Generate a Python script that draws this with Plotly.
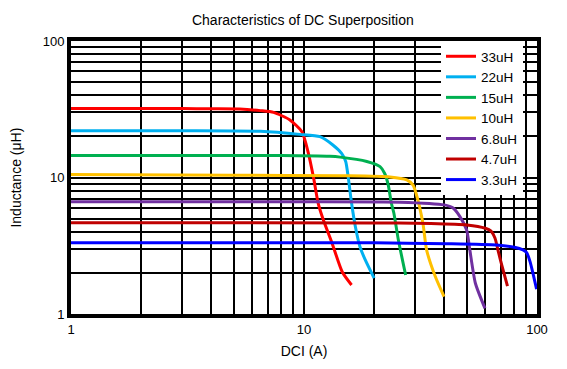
import plotly.graph_objects as go

# ---- data ----
names = ["33uH", "22uH", "15uH", "10uH", "6.8uH", "4.7uH", "3.3uH"]
colors = ["#FF0000", "#00B0F0", "#00B050", "#FFC000", "#7030A0", "#C00000", "#0000FF"]

i_33 = [1, 2, 3, 4, 5.3, 6.5, 7.4, 8.7, 9.8, 10.4, 11.0, 11.5, 12.1, 13.2, 14.6, 16.0]
l_33 = [32, 32, 32, 31.9, 31.8, 30.9, 30.0, 26.4, 21.6, 15.5, 9.9, 6.5, 4.9, 3.3, 2.03, 1.63]

i_22 = [1, 3, 6.5, 9.6, 11.7, 13.3, 14.5, 15.1, 15.5, 16.0, 16.6, 17.4, 18.3, 20.0]
l_22 = [22, 22, 21.8, 20.7, 19.9, 17.3, 15.0, 13.1, 9.9, 6.5, 4.4, 3.1, 2.5, 1.83]

i_15 = [1, 5, 8, 12.9, 14.3, 18.6, 21.2, 22.2, 23.0, 23.7, 24.3, 25.4, 27.3]
l_15 = [14.5, 14.5, 14.5, 14.3, 14.1, 13.1, 12.0, 10.7, 8.8, 6.5, 5.5, 3.5, 1.93]

i_10 = [1, 5, 15, 23.4, 27.6, 29.4, 30.3, 32.4, 33.6, 36.6, 39.9]
l_10 = [10.5, 10.4, 10.3, 10.1, 9.6, 8.8, 7.6, 4.6, 2.94, 1.88, 1.34]

i_68 = [1, 10, 25.8, 40, 43.5, 46.7, 49.9, 51.5, 54.4, 59.8]
l_68 = [6.65, 6.65, 6.6, 6.3, 6.0, 5.17, 4.12, 2.94, 1.68, 1.10]

i_47 = [1, 20, 35, 50, 60, 63.5, 66, 68, 70.5, 74.7]
l_47 = [4.67, 4.65, 4.6, 4.49, 4.25, 4.05, 3.6, 2.94, 2.3, 1.6]

i_33b = [1, 20, 41, 67, 80, 87, 90.3, 93.5, 96, 99.6]
l_33b = [3.33, 3.32, 3.27, 3.2, 3.08, 2.95, 2.82, 2.4, 2.0, 1.52]

currents = [i_33, i_22, i_15, i_10, i_68, i_47, i_33b]
inductances = [l_33, l_22, l_15, l_10, l_68, l_47, l_33b]

grid_vals = [m * 10 ** d for d in range(2) for m in range(1, 10)] + [100]
major_labels = {1: "1", 10: "10", 100: "100"}
grid_text = [major_labels.get(v, "") for v in grid_vals]

FONT = "Liberation Sans, Arial, sans-serif"

fig = go.Figure()
for name, col, xs, ys in zip(names, colors, currents, inductances):
    fig.add_trace(go.Scatter(
        x=xs, y=ys, mode="lines", name=name,
        line=dict(color=col, width=3, shape="spline", smoothing=0.6),
    ))

axis_common = dict(
    type="log",
    tickmode="array",
    tickvals=grid_vals,
    ticktext=grid_text,
    showgrid=True,
    gridcolor="black",
    gridwidth=1.5,
    showline=True,
    linecolor="black",
    linewidth=4,
    mirror=True,
    ticks="",
    zeroline=False,
    automargin=False,
    tickfont=dict(family=FONT, size=13, color="black"),
)

fig.update_xaxes(range=[0, 2], title=dict(text="DCI (A)", font=dict(family=FONT, size=14, color="black"), standoff=12), **axis_common)
fig.update_yaxes(range=[0, 2], **axis_common)

fig.add_annotation(
    text="Inductance (μH)", xref="paper", yref="paper", x=-0.12, y=0.5,
    xanchor="center", yanchor="middle", textangle=-90, showarrow=False,
    font=dict(family=FONT, size=14, color="black"),
)

fig.update_layout(
    width=567, height=369,
    margin=dict(l=63, r=38, t=33, b=63),
    paper_bgcolor="white", plot_bgcolor="white",
    title=dict(text="Characteristics of DC Superposition", x=0.52, xanchor="center", y=0.967, yanchor="middle",
               font=dict(family=FONT, size=14, color="black")),
    showlegend=True,
    legend=dict(x=0.794, y=1.0, xanchor="left", yanchor="top", bgcolor="white",
                borderwidth=0, font=dict(family=FONT, size=13.5, color="black"),
                tracegroupgap=0, itemwidth=30),
)

fig.write_html("out.html")
